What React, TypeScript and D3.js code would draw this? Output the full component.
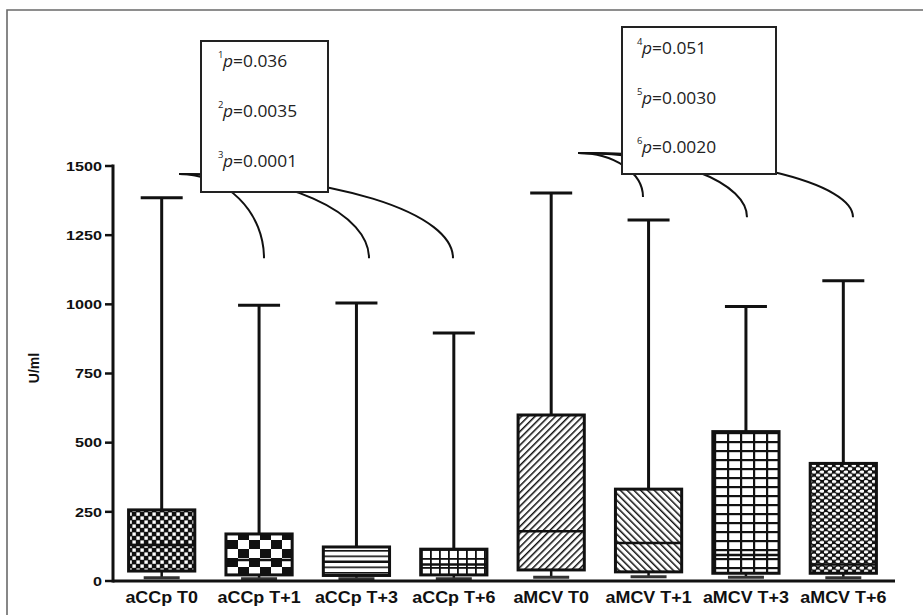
import React from 'react';
import * as d3 from 'd3';

// Box plot values (U/ml)
const categories = ['aCCp T0', 'aCCp T+1', 'aCCp T+3', 'aCCp T+6', 'aMCV T0', 'aMCV T+1', 'aMCV T+3', 'aMCV T+6'];
const maxVals = [1385, 997, 1005, 896, 1402, 1305, 992, 1085];
const q3Vals = [257, 170, 123, 115, 600, 332, 540, 425];
const medianVals = [130, 76, 70, 60, 180, 137, 94, 60];
const q1Vals = [36, 22, 20, 22, 40, 33, 28, 28];
const minVals = [12, 8, 8, 8, 14, 15, 14, 12];
const yTicks = [0, 250, 500, 750, 1000, 1250, 1500];

// p-value annotations
const pLabelsA = [{ n: '1', p: '0.036' }, { n: '2', p: '0.0035' }, { n: '3', p: '0.0001' }];
const pLabelsB = [{ n: '4', p: '0.051' }, { n: '5', p: '0.0030' }, { n: '6', p: '0.0020' }];

const patternIds = ['pat0', 'pat1', 'pat2', 'pat3', 'pat4', 'pat5', 'pat6', 'pat7'];

const W = 923;
const H = 615;
const plot = { left: 113, right: 892, top: 166, bottom: 581 };

// quarter-ellipse connector: leaves (x0,y0) horizontally, lands on (x1,y1) vertically
const connector = (x0: number, y0: number, x1: number, y1: number) =>
  `M${x0},${y0} A${x1 - x0},${y1 - y0} 0 0 1 ${x1},${y1}`;

const Patterns = () => (
  <defs>
    <pattern id="pat0" patternUnits="userSpaceOnUse" width="8" height="8">
      <rect width="8" height="8" fill="#111" />
      <rect x="0.4" y="0.4" width="3.4" height="3.4" fill="#fff" />
      <rect x="4.4" y="4.4" width="3.4" height="3.4" fill="#fff" />
    </pattern>
    <pattern id="pat1" patternUnits="userSpaceOnUse" width="22" height="18" x="227" y="0">
      <rect width="22" height="18" fill="#fff" />
      <rect x="0" y="0" width="11" height="9" fill="#111" />
      <rect x="11" y="9" width="11" height="9" fill="#111" />
    </pattern>
    <pattern id="pat2" patternUnits="userSpaceOnUse" width="10" height="5.5">
      <rect width="10" height="5.5" fill="#fff" />
      <rect y="0" width="10" height="1.6" fill="#111" />
    </pattern>
    <pattern id="pat3" patternUnits="userSpaceOnUse" width="9" height="9" x="421" y="0">
      <rect width="9" height="9" fill="#fff" />
      <rect x="0" width="1.8" height="9" fill="#111" />
      <rect y="0" width="9" height="1.8" fill="#111" />
    </pattern>
    <pattern id="pat4" patternUnits="userSpaceOnUse" width="4.8" height="10" patternTransform="rotate(45)">
      <rect width="4.8" height="10" fill="#fff" />
      <rect x="0" width="1.5" height="10" fill="#111" />
    </pattern>
    <pattern id="pat5" patternUnits="userSpaceOnUse" width="4.8" height="10" patternTransform="rotate(-45)">
      <rect width="4.8" height="10" fill="#fff" />
      <rect x="0" width="1.5" height="10" fill="#111" />
    </pattern>
    <pattern id="pat6" patternUnits="userSpaceOnUse" width="13" height="9" x="714" y="0">
      <rect width="13" height="9" fill="#fff" />
      <rect x="0" width="2.2" height="9" fill="#111" />
      <rect y="0" width="13" height="2.2" fill="#111" />
    </pattern>
    <pattern id="pat7" patternUnits="userSpaceOnUse" width="8" height="6.4">
      <rect width="8" height="6.4" fill="#111" />
      <ellipse cx="2" cy="1.6" rx="2.4" ry="1.5" fill="#fff" />
      <ellipse cx="6" cy="4.8" rx="2.4" ry="1.5" fill="#fff" />
    </pattern>
  </defs>
);

export default function App() {
  const x = d3.scaleBand<string>()
    .domain(categories)
    .range([plot.left, plot.right])
    .paddingInner(0.32)
    .paddingOuter(0.16);
  const y = d3.scaleLinear().domain([0, 1500]).range([plot.bottom, plot.top]);
  const bw = x.bandwidth();

  const sans = 'Liberation Sans, Arial, sans-serif';
  const calibri = '"Open Sans", sans-serif';

  // connectors from the p-value boxes down to the compared groups
  const originA = { x: 179, y: 174 };
  const endsA = [{ x: 264, v: 1167 }, { x: 369, v: 1167 }, { x: 453, v: 1167 }];
  const originB = { x: 578, y: 153 };
  const endsB = [{ x: 643, v: 1388 }, { x: 747, v: 1315 }, { x: 853, v: 1315 }];

  return (
    <svg width={W} height={H} style={{ position: 'absolute', left: 0, top: 0, background: '#fff' }}>
      <Patterns />
      {/* figure frame */}
      <path d={`M7,${H + 5} V10 H${W + 5}`} fill="none" stroke="#6a6a6a" strokeWidth={1.6} />

      {/* connectors (drawn under the p boxes) */}
      <g fill="none" stroke="#111" strokeWidth={2}>
        {endsA.map((e, i) => (
          <path key={'a' + i} d={connector(originA.x, originA.y, e.x, y(e.v))} />
        ))}
        {endsB.map((e, i) => (
          <path key={'b' + i} d={connector(originB.x, originB.y, e.x, y(e.v))} />
        ))}
        <line x1={originB.x} y1={originB.y} x2={622} y2={originB.y + 1} />
      </g>

      {/* p-value boxes */}
      <rect x={201} y={41} width={127} height={151} fill="#fff" stroke="#222" strokeWidth={2} />
      {pLabelsA.map((d, i) => (
        <g key={d.n} transform={`translate(218,${67 + i * 50}) scale(1.12,1)`} fontFamily={calibri} fill="#222">
          <text x={0} y={-9} fontSize={8.5}>{d.n}</text>
          <text x={4.5} y={0} fontSize={15.5}>
            <tspan fontStyle="italic">p</tspan>={d.p}
          </text>
        </g>
      ))}
      <rect x={622} y={27} width={154} height={147} fill="#fff" stroke="#222" strokeWidth={2} />
      {pLabelsB.map((d, i) => (
        <g key={d.n} transform={`translate(637,${54 + i * 49.5}) scale(1.12,1)`} fontFamily={calibri} fill="#222">
          <text x={0} y={-9} fontSize={8.5}>{d.n}</text>
          <text x={4.5} y={0} fontSize={15.5}>
            <tspan fontStyle="italic">p</tspan>={d.p}
          </text>
        </g>
      ))}

      {/* boxes and whiskers */}
      {categories.map((c, i) => {
        const x0 = x(c) as number;
        const cx = x0 + bw / 2;
        return (
          <g key={c}>
            <line x1={cx} x2={cx} y1={y(q3Vals[i])} y2={y(maxVals[i])} stroke="#111" strokeWidth={3} />
            <line x1={cx - 21} x2={cx + 21} y1={y(maxVals[i])} y2={y(maxVals[i])} stroke="#111" strokeWidth={3} />
            <line x1={cx} x2={cx} y1={y(q1Vals[i])} y2={y(minVals[i])} stroke="#111" strokeWidth={2.5} />
            <line x1={cx - 18} x2={cx + 18} y1={y(minVals[i])} y2={y(minVals[i])} stroke="#333" strokeWidth={3} />
            <rect
              x={x0}
              y={y(q3Vals[i])}
              width={bw}
              height={y(q1Vals[i]) - y(q3Vals[i])}
              fill={`url(#${patternIds[i]})`}
              stroke="#111"
              strokeWidth={3}
            />
            <line x1={x0} x2={x0 + bw} y1={y(medianVals[i])} y2={y(medianVals[i])} stroke="#111" strokeWidth={2.5} />
          </g>
        );
      })}

      {/* y axis */}
      <line x1={plot.left} x2={plot.left} y1={y(1500) - 1.5} y2={plot.bottom + 1.5} stroke="#111" strokeWidth={3} />
      {yTicks.map(t => (
        <g key={t}>
          <line x1={plot.left - 8} x2={plot.left} y1={y(t)} y2={y(t)} stroke="#111" strokeWidth={2.5} />
          <text
            transform={`translate(${plot.left - 11},${y(t) + 4.8}) scale(1.2,1)`}
            textAnchor="end"
            fontFamily={sans}
            fontWeight="bold"
            fontSize={13.5}
            fill="#111"
          >
            {t}
          </text>
        </g>
      ))}
      <text
        transform={`translate(39,368) rotate(-90)`}
        textAnchor="middle"
        fontFamily={sans}
        fontWeight="bold"
        fontSize={14}
        fill="#111"
      >
        U/ml
      </text>

      {/* x axis */}
      <line x1={plot.left} x2={895} y1={plot.bottom} y2={plot.bottom} stroke="#111" strokeWidth={3} />
      {categories.map(c => (
        <text
          key={c}
          transform={`translate(${(x(c) as number) + bw / 2},603) scale(1.12,1)`}
          textAnchor="middle"
          fontFamily={sans}
          fontWeight="bold"
          fontSize={16}
          fill="#111"
        >
          {c}
        </text>
      ))}
    </svg>
  );
}
